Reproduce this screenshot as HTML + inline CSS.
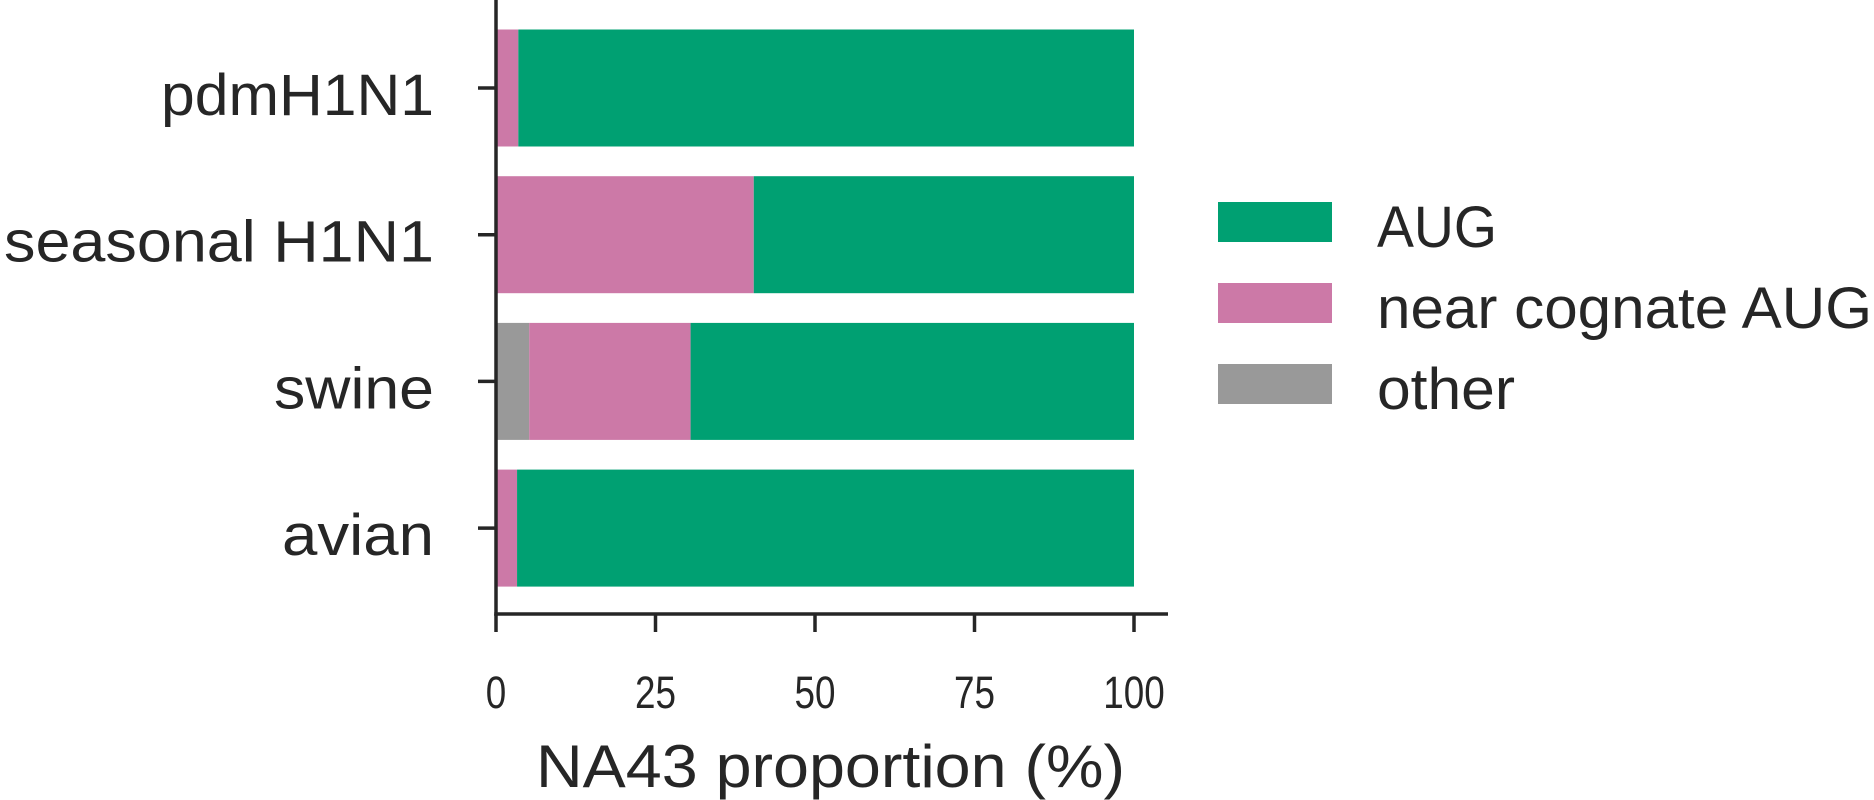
<!DOCTYPE html>
<html><head><meta charset="utf-8"><style>
html,body{margin:0;padding:0;background:#fff;}
svg{display:block;font-family:"Liberation Sans",Arial,sans-serif;}
</style></head><body>
<svg id="chart" width="1874" height="800" viewBox="0 0 1874 800" xmlns="http://www.w3.org/2000/svg">
<g id="bars"></g>
<g id="axes"></g>
<g id="legend"></g>
</svg>
<script>
const categories = ["pdmH1N1", "seasonal H1N1", "swine", "avian"];
const otherVals = [0, 0, 5.2, 0];
const nearVals = [3.5, 40.4, 25.3, 3.3];
const augVals = [96.5, 59.6, 69.5, 96.7];
const xTicks = [0, 25, 50, 75, 100];
const seriesNames = ["AUG", "near cognate AUG", "other"];

const NS = "http://www.w3.org/2000/svg";
const x0 = 496, x1 = 1134, axisY = 614;
const bandStep = 146.7, barH = 117;
const xs = v => x0 + (v / 100) * (x1 - x0);
const yc = i => 88 + i * bandStep;
const colors = {aug: "#00a072", near: "#cc79a7", other: "#999999"};
const ink = "#262626";
function mk(tag, attrs, parent) {
  const e = document.createElementNS(NS, tag);
  for (const k in attrs) e.setAttribute(k, attrs[k]);
  parent.appendChild(e);
  return e;
}
const bars = document.getElementById("bars");
const axes = document.getElementById("axes");
const legend = document.getElementById("legend");
const labelLens = [273, 430, 160, 152];

categories.forEach((c, i) => {
  const top = yc(i) - barH / 2;
  let acc = 0;
  const segs = [["other", otherVals[i]], ["near", nearVals[i]], ["aug", augVals[i]]];
  segs.forEach(([k, v]) => {
    if (v <= 0) return;
    const r = mk("rect", {x: xs(acc), y: top, width: xs(acc + v) - xs(acc), height: barH, fill: colors[k]}, bars);
    
    
    acc += v;
  });
  const t = mk("line", {x1: 478, x2: x0, y1: yc(i), y2: yc(i), stroke: ink, "stroke-width": 3.5}, axes);
  
  
  const lb = mk("text", {x: 434, y: yc(i) + 27, "text-anchor": "end", "font-size": 58, fill: ink, textLength: labelLens[i], lengthAdjust: "spacingAndGlyphs"}, axes);
  lb.textContent = c;
  
  
});

const ya = mk("line", {x1: x0, x2: x0, y1: 0, y2: axisY + 1.75, stroke: ink, "stroke-width": 3.5}, axes);


const xa = mk("line", {x1: x0 - 1.75, x2: 1168, y1: axisY, y2: axisY, stroke: ink, "stroke-width": 3.5}, axes);


xTicks.forEach(v => {
  const t = mk("line", {x1: xs(v), x2: xs(v), y1: axisY, y2: 632, stroke: ink, "stroke-width": 3.5}, axes);
  
  
  const s = String(v);
  const lb = mk("text", {x: xs(v), y: 708, "text-anchor": "middle", "font-size": 45, fill: ink, textLength: s.length * 20.5, lengthAdjust: "spacingAndGlyphs"}, axes);
  lb.textContent = s;
  
  
});
const title = mk("text", {x: 536, y: 787, "font-size": 60, fill: ink, textLength: 589, lengthAdjust: "spacingAndGlyphs"}, axes);
title.textContent = "NA43 proportion (%)";



const legKeys = ["aug", "near", "other"];
const legLens = [120, 495, 138];
seriesNames.forEach((n, i) => {
  const top = 202 + i * 81;
  const sw = mk("rect", {x: 1218, y: top, width: 114, height: 40, fill: colors[legKeys[i]]}, legend);
  
  
  const tx = mk("text", {x: 1377, y: top + 45, "font-size": 58, fill: ink, textLength: legLens[i], lengthAdjust: "spacingAndGlyphs"}, legend);
  tx.textContent = n;
  
  
});
</script>
</body></html>
